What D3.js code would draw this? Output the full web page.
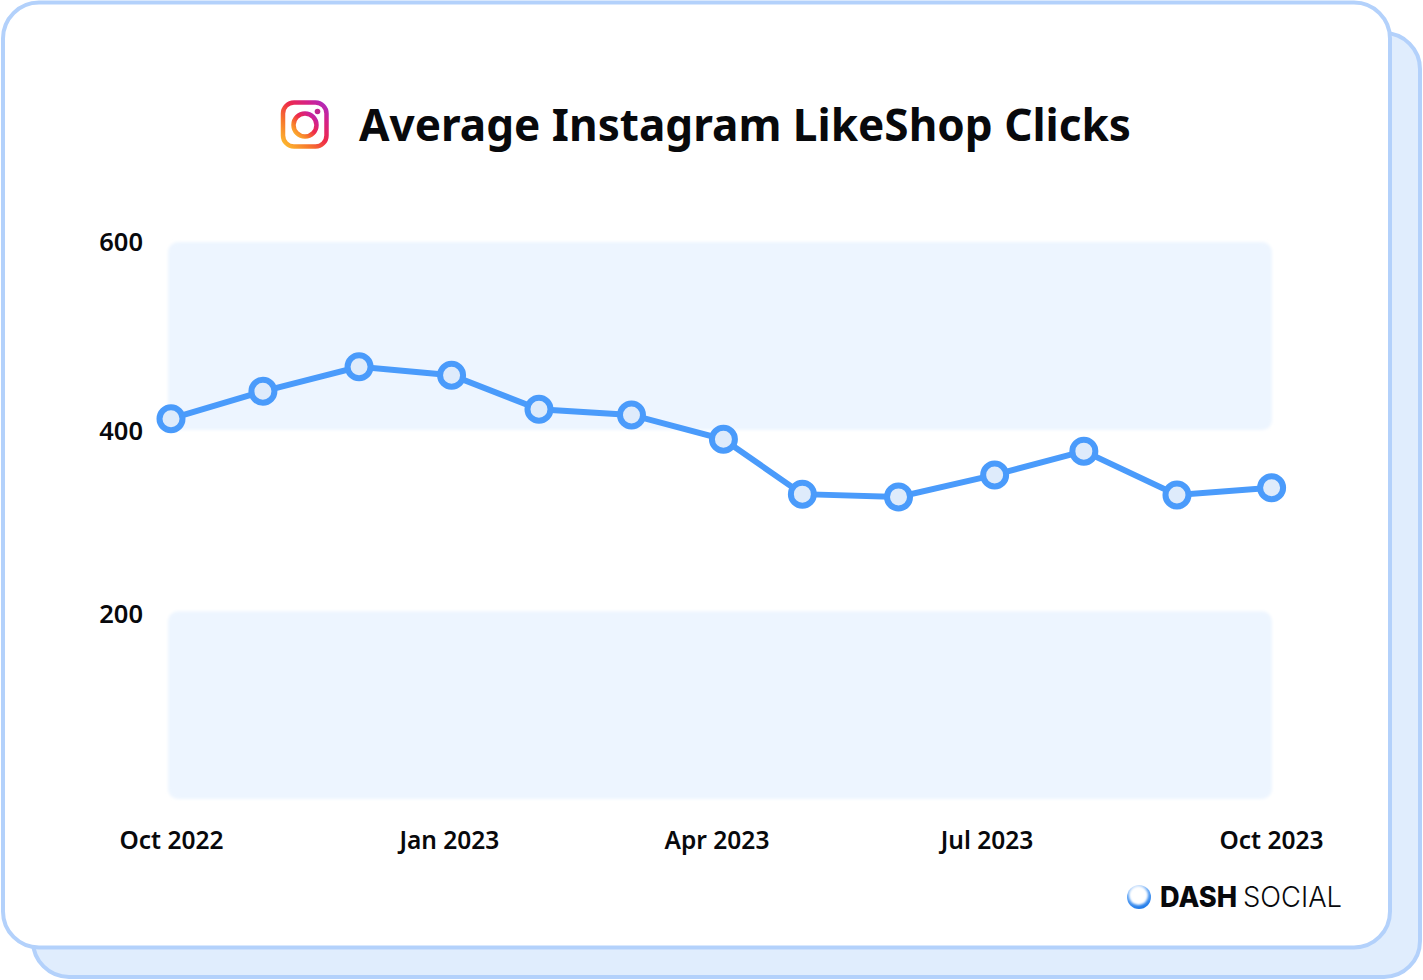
<!DOCTYPE html>
<html><head><meta charset="utf-8">
<script src="https://cdn.jsdelivr.net/npm/d3@7"></script>
<style>html,body{margin:0;padding:0;background:#fff}svg{display:block}text{font-family:"Noto Sans",sans-serif}</style>
</head><body><svg id="c" width="1423" height="980"></svg>
<script>
const titleText = "Average Instagram LikeShop Clicks";
const dayOffsets = [0, 30.5, 62.4, 93.1, 122.1, 152.8, 183.3, 209.5, 241.4, 273.3, 302.9, 333.8, 365.2];
const clicks = [413, 442, 468, 459, 423, 417, 391, 331, 328, 352, 378, 330, 338];
const xTickDays = [0, 92.2, 181, 270.6, 365];
const xTickLabels = ["Oct 2022", "Jan 2023", "Apr 2023", "Jul 2023", "Oct 2023"];
const yTicks = [200, 400, 600];
const bandRanges = [[600, 401], [203, 0]];

const svg = d3.select("#c");
const defs = svg.append("defs");
const ig = defs.append("linearGradient").attr("id","ig").attr("x1","0").attr("y1","1").attr("x2","1").attr("y2","0");
[[0,"#fdc02f"],[.3,"#f7772c"],[.55,"#ee2a4a"],[.8,"#d3218c"],[1,"#a92cc4"]].forEach(([o,c])=>ig.append("stop").attr("offset",o).attr("stop-color",c));
const lg = defs.append("linearGradient").attr("id","lg").attr("x1","0.3").attr("y1","0").attr("x2","0.6").attr("y2","1");
[[0,"#cfe2fb"],[.35,"#5fa4f5"],[1,"#1f7ae8"]].forEach(([o,c])=>lg.append("stop").attr("offset",o).attr("stop-color",c));
const soft = defs.append("filter").attr("id","soft");
soft.append("feGaussianBlur").attr("stdDeviation",1.6);
const softer = defs.append("filter").attr("id","softer");
softer.append("feGaussianBlur").attr("stdDeviation",0.8);

const x = d3.scaleLinear().domain([0,365]).range([171,1271]);
const y = d3.scaleLinear().domain([0,200,400,600]).range([799,614,431,242]);

svg.append("rect").attr("x",33).attr("y",33).attr("width",1387).attr("height",944).attr("rx",36)
  .attr("fill","#e0edfd").attr("stroke","#b3d1fb").attr("stroke-width",4);
svg.append("rect").attr("x",3).attr("y",2.5).attr("width",1387).attr("height",945).attr("rx",36)
  .attr("fill","#fff").attr("stroke","#b3d1fb").attr("stroke-width",4);

svg.append("g").selectAll("rect").data(bandRanges).join("rect")
  .attr("x",x(0)-3).attr("width",x(365)-x(0)+4)
  .attr("y",d=>y(d[0])).attr("height",d=>y(d[1])-y(d[0])).attr("rx",10)
  .attr("fill","#edf5ff").attr("filter","url(#soft)");

// Title + icon
const icon = svg.append("g");
icon.append("rect").attr("x",283).attr("y",102.5).attr("width",43.5).attr("height",44).attr("rx",11)
  .attr("fill","none").attr("stroke","url(#ig)").attr("stroke-width",4.5);
icon.append("circle").attr("cx",305).attr("cy",125).attr("r",11.5).attr("fill","none").attr("stroke","url(#ig)").attr("stroke-width",4.5);
icon.append("circle").attr("cx",317.5).attr("cy",111.5).attr("r",2.8).attr("fill","#c1258f");
svg.append("text").attr("x",359).attr("y",141).attr("font-size",44).attr("font-weight",700).attr("fill","#08090c")
  .attr("textLength",772).attr("lengthAdjust","spacingAndGlyphs").text(titleText);

// Axes
const yAxis = d3.axisLeft(y).tickValues(yTicks).tickSize(0).tickPadding(0);
const yg = svg.append("g").attr("transform","translate(143,0)").call(yAxis);
yg.select(".domain").remove();
yg.selectAll("text").style("font-family",'"Noto Sans",sans-serif').attr("font-size",25.5).attr("font-weight",600).attr("fill","#08090c");
yg.selectAll("text").attr("dy","0.34em");

const xAxis = d3.axisBottom(x).tickValues(xTickDays).tickFormat((d,i)=>xTickLabels[i]).tickSize(0).tickPadding(0);
const xg = svg.append("g").attr("transform","translate(0,832)").call(xAxis);
xg.select(".domain").remove();
xg.selectAll("text").style("font-family",'"Noto Sans",sans-serif').attr("font-size",24.5).attr("font-weight",600).attr("fill","#08090c");

// Line + points
const line = d3.line().x((d,i)=>x(dayOffsets[i])).y(d=>y(d));
svg.append("path").datum(clicks).attr("d",line).attr("fill","none").attr("stroke","#4a9bfb").attr("stroke-width",6);
svg.append("g").selectAll("circle").data(clicks).join("circle")
  .attr("cx",(d,i)=>x(dayOffsets[i])).attr("cy",d=>y(d)).attr("r",11.5)
  .attr("fill","#deebfb").attr("stroke","#4a9bfb").attr("stroke-width",6);

// Logo
svg.append("circle").attr("cx",1139).attr("cy",897).attr("r",12).attr("fill","url(#lg)");
svg.append("circle").attr("cx",1138.5).attr("cy",895.5).attr("r",9.5).attr("fill","#fff").attr("filter","url(#softer)");
svg.append("text").attr("x",1160).attr("y",907).attr("font-size",28).attr("font-weight",800).attr("fill","#08090c")
  .style("font-family","Inter,sans-serif").attr("textLength",77).attr("lengthAdjust","spacingAndGlyphs").text("DASH");
svg.append("text").attr("x",1243).attr("y",907).attr("font-size",28).attr("font-weight",300).attr("fill","#08090c")
  .style("font-family","Inter,sans-serif").attr("textLength",99).attr("lengthAdjust","spacingAndGlyphs").text("SOCIAL");
</script></body></html>
